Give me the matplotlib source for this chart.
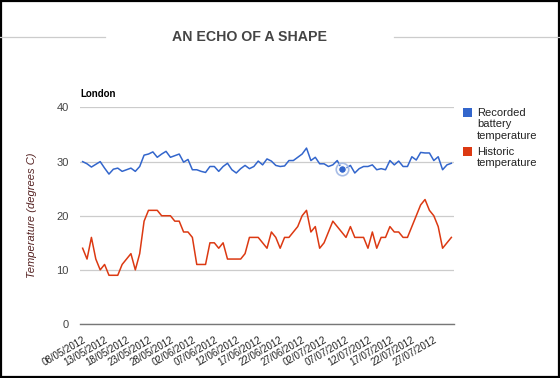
import numpy as np
import pandas as pd
import matplotlib
matplotlib.use('Agg')
import matplotlib.pyplot as plt
from matplotlib.patches import Rectangle
from matplotlib.lines import Line2D

plt.rcParams['font.family'] = ['Liberation Sans', 'DejaVu Sans']

# daily readings, 08/05/2012 .. 31/07/2012
dates = pd.date_range('2012-05-08', '2012-07-31', freq='D')
recorded = [30.0, 29.6, 29.0, 29.5, 30.0, 28.8, 27.7, 28.6, 28.8, 28.2,
            28.5, 28.8, 28.2, 29.1, 31.2, 31.4, 31.8, 30.8, 31.4, 31.9,
            30.8, 31.1, 31.4, 29.9, 30.4, 28.5, 28.5, 28.2, 28.0, 29.1,
            29.1, 28.2, 29.1, 29.7, 28.5, 27.9, 28.7, 29.3, 28.7, 29.1,
            30.1, 29.4, 30.5, 30.1, 29.3, 29.1, 29.2, 30.2, 30.2, 30.8,
            31.4, 32.5, 30.2, 30.8, 29.6, 29.6, 29.1, 29.4, 30.2, 28.7,
            28.8, 29.3, 27.9, 28.7, 29.1, 29.1, 29.4, 28.5, 28.7, 28.5,
            30.2, 29.4, 30.1, 29.1, 29.1, 30.9, 30.3, 31.7, 31.6, 31.6,
            30.2, 30.9, 28.5, 29.4, 29.7]
historic = [14, 12, 16, 12, 10, 11, 9, 9, 9, 11,
            12, 13, 10, 13, 19, 21, 21, 21, 20, 20,
            20, 19, 19, 17, 17, 16, 11, 11, 11, 15,
            15, 14, 15, 12, 12, 12, 12, 13, 16, 16,
            16, 15, 14, 17, 16, 14, 16, 16, 17, 18,
            20, 21, 17, 18, 14, 15, 17, 19, 18, 17,
            16, 18, 16, 16, 16, 14, 17, 14, 16, 16,
            18, 17, 17, 16, 16, 18, 20, 22, 23, 21,
            20, 18, 14, 15, 16]
highlight = 59  # hovered point (06/07/2012)
series_names = [['Recorded', 'battery', 'temperature'], ['Historic', 'temperature']]

blue = '#3366cc'
red = '#dc3912'

fig = plt.figure(figsize=(5.6, 3.78), dpi=100)
ax = fig.add_axes([80/560, 1 - 324/378, 374/560, 216.5/378])

x = np.arange(len(dates))
ax.plot(x, recorded, color=blue, lw=1.1, zorder=3)
ax.plot(x, historic, color=red, lw=1.1, zorder=3)
ax.plot(x[highlight], recorded[highlight], 'o', ms=9, mfc='none', mec='#a8bde6', mew=1.2, zorder=4)
ax.plot(x[highlight], recorded[highlight], 'o', ms=5.5, mfc=blue, mec='white', mew=0.8, zorder=5)

ax.set_xlim(-0.6, len(dates) - 0.4)
ax.set_ylim(0, 40)
ax.set_yticks([0, 10, 20, 30, 40])
ax.grid(axis='y', color='#cccccc', lw=0.9)
ax.set_axisbelow(True)
for s in ['top', 'right', 'left']:
    ax.spines[s].set_visible(False)
ax.spines['bottom'].set_color('#777777')
ax.spines['bottom'].set_linewidth(1.0)
ax.tick_params(length=0)
ax.tick_params(axis='y', labelsize=8, labelcolor='#444444', pad=8)

tick_pos = x[::5]
ax.set_xticks(tick_pos)
ax.set_xticklabels([d.strftime('%d/%m/%Y') for d in dates[::5]], rotation=30,
                   ha='right', va='top', rotation_mode='anchor', fontsize=7, color='#222222')
ax.tick_params(axis='x', pad=8)

ax.set_ylabel('Temperature (degrees C)', fontstyle='italic', fontsize=8, color='#552222', labelpad=14)
ax.text(0, 1.04, 'London', transform=ax.transAxes, fontsize=7, fontweight='bold', ha='left', va='bottom')

# legend drawn by hand (square + wrapped lines)
H = 378.0
for col, lines, ytop in [(blue, series_names[0], 108), (red, series_names[1], 147)]:
    fig.add_artist(Rectangle((463/560, 1 - (ytop + 9)/H), 9/560, 9/H,
                             transform=fig.transFigure, color=col, lw=0))
    for k, line in enumerate(lines):
        fig.text(477/560, 1 - (ytop + 5 + 11.5*k)/H, line, fontsize=8,
                 color='#222222', ha='left', va='center')

# title with side rules
fig.text(249/560, 1 - 37/378, 'AN ECHO OF A SHAPE', ha='center', va='center',
         fontsize=10.2, fontweight='bold', color='#444444')
fig.add_artist(Line2D([0, 105/560], [1 - 37/378] * 2, color='#cccccc', lw=0.9))
fig.add_artist(Line2D([394/560, 1], [1 - 37/378] * 2, color='#cccccc', lw=0.9))

# outer frame
fig.add_artist(Rectangle((0.001, 0.002), 0.997, 0.995, transform=fig.transFigure,
                         fill=False, ec='black', lw=1.6))

fig.savefig('out.png', dpi=100)
